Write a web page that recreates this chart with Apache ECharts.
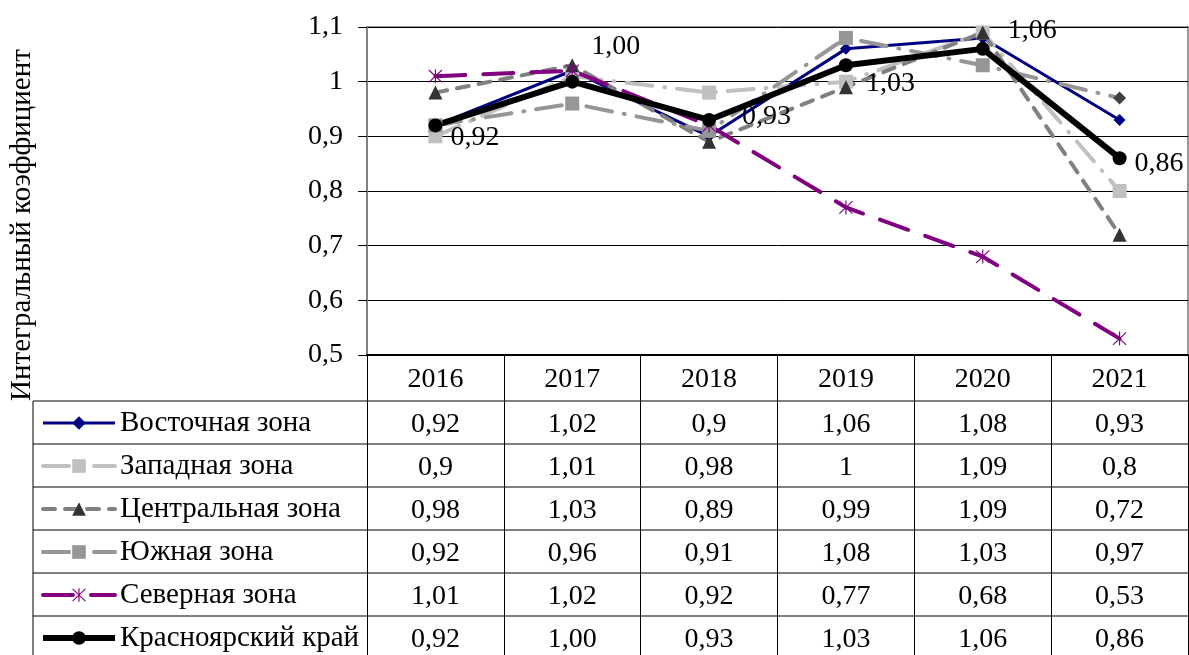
<!DOCTYPE html>
<html>
<head>
<meta charset="utf-8">
<script src="https://cdn.jsdelivr.net/npm/echarts@6/dist/echarts.min.js"></script>
<style>
  html, body { margin: 0; padding: 0; background: #fff; }
  #chart { width: 1189px; height: 655px; }
</style>
</head>
<body>
<div id="chart"></div>
<script>
const years = ['2016', '2017', '2018', '2019', '2020', '2021']
const zoneNames = ['Восточная зона', 'Западная зона', 'Центральная зона', 'Южная зона', 'Северная зона', 'Красноярский край']
const vostochnaya = [0.92, 1.02, 0.9, 1.06, 1.08, 0.93]
const zapadnaya = [0.9, 1.01, 0.98, 1, 1.09, 0.8]
const centralnaya = [0.98, 1.03, 0.89, 0.99, 1.09, 0.72]
const yuzhnaya = [0.92, 0.96, 0.91, 1.08, 1.03, 0.97]
const severnaya = [1.01, 1.02, 0.92, 0.77, 0.68, 0.53]
const krai = [0.92, 1.0, 0.93, 1.03, 1.06, 0.86]
const yAxisTitle = 'Интегральный коэффициент'

const FONT = 'Liberation Serif'
const FS = 28
const FS_TEXT = 29
// table under the plot
const tableTop = 401
const rowH = 43
const tableLeft = 33
const chartW = 1189

const allSeries = [vostochnaya, zapadnaya, centralnaya, yuzhnaya, severnaya, krai]
const comma = v => String(v).replace('.', ',')
const cellText = (arr, i) => arr === krai ? arr[i].toFixed(2).replace('.', ',') : comma(arr[i])

// label offsets for the Красноярский край values
const kraiLabelOffsets = [[3, 12], [7, -35], [21, -3], [8, 18], [13, -18], [3, 5]]

const asterisk = 'path://M9.2,0H10.8V20H9.2Z M0.6,1.7L1.7,0.6L19.4,18.3L18.3,19.4Z M18.3,0.6L19.4,1.7L1.7,19.4L0.6,18.3Z'

const chartDom = document.getElementById('chart')
const chart = echarts.init(chartDom)

const graphic = [
  {
    type: 'text',
    x: 22,
    y: 225,
    rotation: Math.PI / 2,
    style: {
      text: yAxisTitle,
      font: `${FS_TEXT}px "${FONT}"`,
      fill: '#000',
      textAlign: 'center',
      textVerticalAlign: 'middle'
    }
  },
  {
    type: 'line',
    shape: { x1: tableLeft, y1: tableTop, x2: tableLeft, y2: 655 },
    style: { stroke: '#000', lineWidth: 1 }
  }
]
for (let k = 0; k < 6; k++) {
  graphic.push({
    type: 'line',
    shape: { x1: tableLeft, y1: tableTop + k * rowH, x2: chartW, y2: tableTop + k * rowH },
    style: { stroke: '#000', lineWidth: 1 }
  })
}

const option = {
  animation: false,
  backgroundColor: '#fff',
  textStyle: { fontFamily: FONT },
  grid: {
    left: 367,
    right: 1,
    top: 27,
    bottom: 300,
    show: true,
    borderColor: '#999',
    borderWidth: 2
  },
  legend: {
    orient: 'vertical',
    left: 40,
    top: 408,
    padding: 0,
    itemGap: 13,
    itemWidth: 72,
    itemHeight: 17,
    data: zoneNames,
    lineStyle: { width: 'inherit' },
    textStyle: { fontFamily: FONT, fontSize: FS_TEXT, color: '#000', lineHeight: 30 }
  },
  xAxis: {
    type: 'category',
    data: years,
    boundaryGap: true,
    axisLine: { lineStyle: { color: '#000', width: 2 } },
    axisTick: { show: true, interval: 0, length: 300, lineStyle: { color: '#000', width: 1 } },
    axisLabel: {
      interval: 0,
      margin: 2,
      formatter: (value, index) =>
        `{h|${value}}\n` + allSeries.map(arr => `{v|${cellText(arr, index)}}`).join('\n'),
      rich: {
        h: { fontFamily: FONT, fontSize: FS, lineHeight: 46, color: '#000' },
        v: { fontFamily: FONT, fontSize: FS, lineHeight: rowH, color: '#000' }
      }
    }
  },
  yAxis: {
    type: 'value',
    min: 0.5,
    max: 1.1,
    interval: 0.1,
    axisLine: { show: true, lineStyle: { color: '#808080', width: 2 } },
    axisTick: { show: true, length: 9, lineStyle: { color: '#000', width: 1 } },
    splitLine: { lineStyle: { color: '#000', width: 1 } },
    axisLabel: {
      margin: 24,
      fontFamily: FONT,
      fontSize: FS,
      color: '#000',
      formatter: v => comma(Math.round(v * 10) / 10)
    }
  },
  series: [
    {
      name: zoneNames[0],
      type: 'line',
      data: vostochnaya,
      symbol: 'diamond',
      symbolSize: 12,
      itemStyle: { color: '#000080' },
      lineStyle: { color: '#000080', width: 3 }
    },
    {
      name: zoneNames[1],
      type: 'line',
      data: zapadnaya,
      symbol: 'rect',
      symbolSize: 14,
      itemStyle: { color: '#C0C0C0' },
      lineStyle: { color: '#C0C0C0', width: 4, type: [26, 12, 1, 12], cap: 'round' }
    },
    {
      name: zoneNames[2],
      type: 'line',
      data: centralnaya,
      symbol: 'triangle',
      symbolSize: 14,
      itemStyle: { color: '#333333' },
      lineStyle: { color: '#808080', width: 4, type: [12, 10], cap: 'round' }
    },
    {
      name: zoneNames[3],
      type: 'line',
      // last point is drawn as a dark diamond in the original
      data: yuzhnaya.map((v, i) => i === yuzhnaya.length - 1
        ? { value: v, symbol: 'diamond', symbolSize: 13, itemStyle: { color: '#404040' } }
        : v),
      symbol: 'rect',
      symbolSize: 14,
      itemStyle: { color: '#969696' },
      lineStyle: { color: '#969696', width: 4, type: [26, 12, 1, 12], cap: 'round' }
    },
    {
      name: zoneNames[4],
      type: 'line',
      data: severnaya,
      symbol: asterisk,
      symbolSize: 14,
      itemStyle: { color: '#800080' },
      lineStyle: { color: '#800080', width: 4, type: [30, 18], cap: 'round' }
    },
    {
      name: zoneNames[5],
      type: 'line',
      data: krai.map((v, i) => ({ value: v, label: { offset: kraiLabelOffsets[i] } })),
      symbol: 'circle',
      symbolSize: 14,
      itemStyle: { color: '#000' },
      lineStyle: { color: '#000', width: 6 },
      label: {
        show: true,
        position: 'right',
        fontFamily: FONT,
        fontSize: FS,
        color: '#000',
        formatter: p => krai[p.dataIndex].toFixed(2).replace('.', ',')
      }
    }
  ],
  graphic: graphic
}

chart.setOption(option)
window.addEventListener('resize', () => chart.resize())
</script>
</body>
</html>
